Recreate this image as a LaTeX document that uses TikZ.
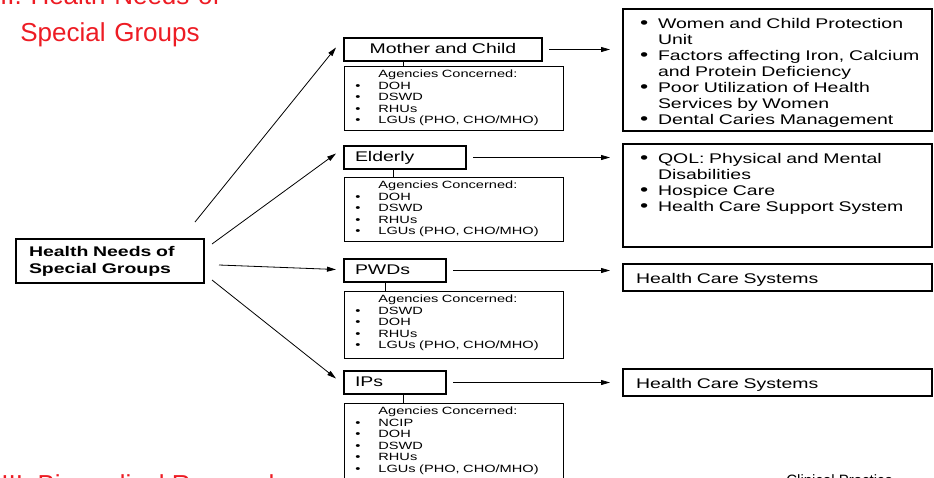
\documentclass[tikz,border=0pt]{standalone}
\usepackage{fontspec}
\setmainfont{Liberation Sans}
\newfontfamily\widefont[FakeStretch=1.39]{Liberation Sans}
\usetikzlibrary{arrows.meta,calc}
\definecolor{slidered}{RGB}{237,28,36}
\newcommand\boxfont{\widefont\fontsize{14}{16}\selectfont}
\newcommand\agfont{\widefont\fontsize{10.5}{11.5}\selectfont}
\newcommand\dotmark{\scalebox{1.2}{\textbullet}}
\newcommand\itm[1][\dotmark]{\makebox[21pt][l]{\hspace*{3pt}#1}}
\newcommand\agitm[1][\textbullet]{\makebox[26pt][l]{\hspace*{3pt}#1}}

\begin{document}
\begin{tikzpicture}[x=1pt,y=-1pt,line width=0.8pt]
    \tikzstyle{group}=[draw,line width=2pt,anchor=north west,inner xsep=11pt,inner ysep=5pt,text height=10pt,text depth=3pt,font=\boxfont,align=left]
    \tikzstyle{agency}=[draw,line width=0.8pt,anchor=north west,inner xsep=8pt,inner ysep=3.5pt,text width=203pt,text height=8pt,font=\agfont,align=left]
    \tikzstyle{need}=[draw,line width=2pt,anchor=north west,inner xsep=14pt,inner ysep=7pt,text width=281pt,text height=12pt,font=\boxfont,align=left]
    \tikzstyle{arr}=[-{Triangle[length=9pt,width=5pt]}]

    \path[use as bounding box,clip] (0,0) rectangle (934,477);

    % slide titles
    \node[text=slidered,font=\fontsize{26}{37}\selectfont,text width=240pt,align=center,anchor=base,inner sep=0pt] (t2) at (110,4) {II. Health Needs of\\Special Groups};
    \node[text=slidered,font=\fontsize{26}{30}\selectfont,anchor=base west,inner sep=0pt] (t3) at (1,493) {III. Biomedical Research};
    \node[font=\fontsize{15}{18}\selectfont,anchor=base west,inner sep=0pt] (cp) at (786,485) {Clinical Practice};

    % root node
    \node[draw,line width=2pt,anchor=north west,inner xsep=13pt,inner ysep=5pt,text width=162pt,text height=12pt,text depth=22pt,align=left,font=\widefont\fontsize{14}{17}\selectfont\bfseries] (hn) at (15,238) {Health Needs of\\Special Groups};

    % special groups
    \node[group,text width=176pt,align=center] (mc) at (343,37) {Mother and Child};
    \node[group,text width=100pt] (el) at (343,145) {Elderly};
    \node[group,text width=80pt] (pw) at (343,258) {PWDs};
    \node[group,text width=80pt] (ip) at (343,370) {IPs};

    % agencies concerned
    \node[agency,text depth=49pt] (ag1) at (344,66) {\agitm[]Agencies Concerned:\\\agitm DOH\\\agitm DSWD\\\agitm RHUs\\\agitm LGUs (PHO, CHO/MHO)};
    \node[agency,text depth=49pt] (ag2) at (344,177) {\agitm[]Agencies Concerned:\\\agitm DOH\\\agitm DSWD\\\agitm RHUs\\\agitm LGUs (PHO, CHO/MHO)};
    \node[agency,text depth=52pt] (ag3) at (344,291) {\agitm[]Agencies Concerned:\\\agitm DSWD\\\agitm DOH\\\agitm RHUs\\\agitm LGUs (PHO, CHO/MHO)};
    \node[agency,text depth=90pt] (ag4) at (344,403) {\agitm[]Agencies Concerned:\\\agitm NCIP\\\agitm DOH\\\agitm DSWD\\\agitm RHUs\\\agitm LGUs (PHO, CHO/MHO)};

    % health needs
    \node[need,text depth=96pt] (r1) at (622,8) {\itm Women and Child Protection\\\itm[]Unit\\\itm\rlap{Factors affecting Iron, Calcium}\\\itm[]and Protein Deficiency\\\itm Poor Utilization of Health\\\itm[]Services by Women\\\itm Dental Caries Management};
    \node[need,text depth=77pt] (r2) at (622,143) {\itm QOL: Physical and Mental\\\itm[]Disabilities\\\itm Hospice Care\\\itm Health Care Support System};
    \node[need,inner xsep=13pt,text width=283pt,inner ysep=5pt,text height=14pt,text depth=3pt] (hc1) at (622,263) {Health Care Systems};
    \node[need,inner xsep=13pt,text width=283pt,inner ysep=5pt,text height=14pt,text depth=3pt] (hc2) at (622,368) {Health Care Systems};

    % root to every group
    \draw[arr] ($(hn.north east)+(-10,-16)$) -- ($(mc.west)+(-7,-2)$);
    \draw[arr] ($(hn.north east)+(7,6)$) -- ($(el.west)+(-7,-4)$);
    \draw[arr] ($(hn.east)+(14,4)$) -- ($(pw.west)+(-7,-1)$);
    \draw[arr] ($(hn.south east)+(7,-4)$) -- ($(ip.west)+(-7,-4)$);

    % every group to its needs
    \foreach \src/\dst in {mc/r1,el/r2,pw/hc1,ip/hc2}
    \draw[arr,shorten <=6pt,shorten >=12pt] (\src.east) -- (\src.east -| \dst.west);

    % every group to its agencies
    \foreach \grp/\ag/\dx in {mc/ag1/60,el/ag2/50,pw/ag3/42,ip/ag4/60}
    \draw ([xshift=\dx pt]\grp.south west) -- ([xshift=\dx pt]\grp.south west |- \ag.north);
\end{tikzpicture}
\end{document}
